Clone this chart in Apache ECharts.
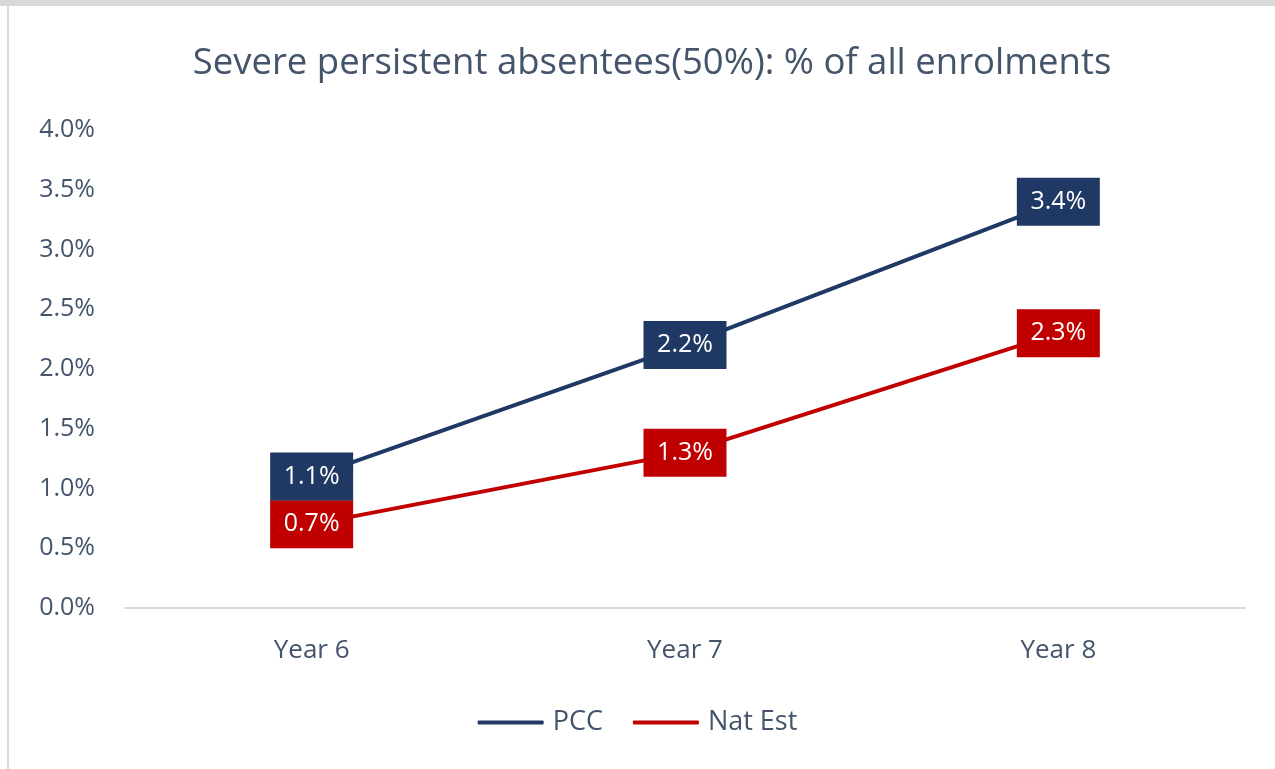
<!DOCTYPE html>
<html>
<head>
<meta charset="utf-8">
<script src="https://cdn.jsdelivr.net/npm/echarts@6/dist/echarts.min.js"></script>
<style>
  html, body { margin: 0; padding: 0; background: #fff; }
  #frame { position: absolute; left: 0; top: 0; width: 1275px; height: 6px; background: #d9d9d9; }
  #edge { position: absolute; left: 7px; top: 0; width: 2px; height: 769px; background: #d9d9d9; }
  #chart { position: absolute; left: 0; top: 0; width: 1275px; height: 769px; }
</style>
</head>
<body>
<div id="frame"></div>
<div id="edge"></div>
<div id="chart"></div>
<script>
const categories = ['Year 6', 'Year 7', 'Year 8']
const pccValues = [1.1, 2.2, 3.4]
const natEstValues = [0.7, 1.3, 2.3]
const seriesNames = ['PCC', 'Nat Est']

const textColor = '#44546A'
const font = 'Open Sans'

const chart = echarts.init(document.getElementById('chart'), null, { renderer: 'canvas' })

// 数据标签：实心方块背景，白字
function labelStyle(bg) {
  return {
    show: true,
    position: 'inside',
    formatter: p => p.value.toFixed(1) + '%',
    color: '#fff',
    fontFamily: font,
    fontSize: 25,
    backgroundColor: bg,
    width: 83,
    height: 48,
    lineHeight: 52,
    align: 'center',
    verticalAlign: 'middle',
    padding: 0
  }
}

const option = {
  animation: false,
  title: {
    text: 'Severe persistent absentees(50%): % of all enrolments',
    left: 647,
    textAlign: 'center',
    top: 40,
    textStyle: { color: textColor, fontFamily: font, fontWeight: 'normal', fontSize: 36.5 }
  },
  grid: { left: 125, right: 30, top: 130, bottom: 161 },
  legend: {
    bottom: 28,
    left: 'center',
    itemWidth: 66,
    itemHeight: 4,
    itemGap: 30,
    icon: 'roundRect',
    textStyle: { color: textColor, fontFamily: font, fontSize: 27, padding: [0, 0, 0, 4] },
    data: seriesNames
  },
  xAxis: {
    type: 'category',
    data: categories,
    boundaryGap: true,
    axisLine: { lineStyle: { color: '#d9d9d9', width: 2 } },
    axisTick: { show: false },
    axisLabel: { color: textColor, fontFamily: font, fontSize: 26, margin: 30 }
  },
  yAxis: {
    type: 'value',
    min: 0,
    max: 4,
    interval: 0.5,
    splitLine: { show: false },
    axisLine: { show: false },
    axisTick: { show: false },
    axisLabel: { color: textColor, fontFamily: font, fontSize: 25, margin: 30, formatter: v => v.toFixed(1) + '%' }
  },
  series: [
    {
      name: seriesNames[0],
      type: 'line',
      data: pccValues,
      symbol: 'circle',
      symbolSize: 0,
      showSymbol: true,
      lineStyle: { color: '#1F3864', width: 4 },
      itemStyle: { color: '#1F3864' },
      label: labelStyle('#1F3864'),
      z: 3
    },
    {
      name: seriesNames[1],
      type: 'line',
      data: natEstValues,
      symbol: 'circle',
      symbolSize: 0,
      showSymbol: true,
      lineStyle: { color: '#C00000', width: 4 },
      itemStyle: { color: '#C00000' },
      label: labelStyle('#C00000'),
      z: 2
    }
  ]
}

chart.setOption(option)
</script>
</body>
</html>
